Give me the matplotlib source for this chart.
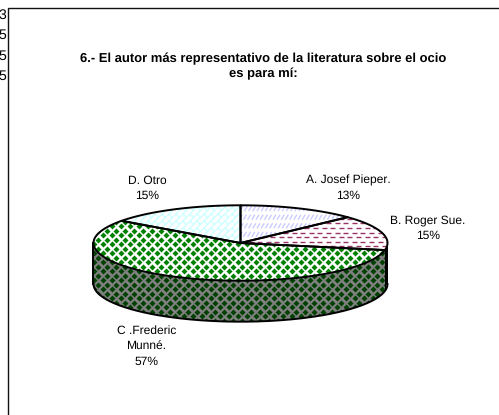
import numpy as np
import matplotlib
matplotlib.use('Agg')
import matplotlib.pyplot as plt
from matplotlib.patches import Polygon
from matplotlib.collections import LineCollection

plt.rcParams['font.family'] = ['Liberation Sans', 'DejaVu Sans']
plt.rcParams['text.hinting'] = 'none'
plt.rcParams['text.hinting_factor'] = 1

title = '6.- El autor más representativo de la literatura sobre el ocio\nes para mí:'
categories = ['A. Josef Pieper.', 'B. Roger Sue.', 'C .Frederic\nMunné.', 'D. Otro']
values = [13, 15, 57, 15]
percent_labels = ['13%', '15%', '57%', '15%']
left_stubs = ['3', '5', '5', '5']

# pie geometry in pixels
cx, cy, rx, ry, depth = 240.5, 243, 147, 37.7, 41

fig = plt.figure(figsize=(4.99, 4.15), dpi=100)
ax = fig.add_axes([0, 0, 1, 1])
ax.set_xlim(0, 499)
ax.set_ylim(415, 0)
ax.axis('off')


def rim(a):
    # a is degrees clockwise from the top
    a = np.radians(a)
    return cx + rx*np.sin(a), cy - ry*np.cos(a)


def wedge_path(a0, a1):
    t = np.linspace(a0, a1, 120)
    x, y = rim(t)
    return np.column_stack([np.r_[cx, x], np.r_[cy, y]])


def side_path(a0, a1):
    t = np.linspace(a0, a1, 120)
    x, y = rim(t)
    return np.column_stack([np.r_[x, x[::-1]], np.r_[y, y[::-1] + depth]])


def diamonds(patch, col, size=6.0):
    xs, ys = [], []
    for i, y in enumerate(np.arange(190, 335, 4.5)):
        off = 4.5 if i % 2 else 0
        for x in np.arange(85 + off, 400, 9.0):
            xs.append(x)
            ys.append(y)
    # size is the width of the diamond in pixels
    s = (size*0.72/np.sqrt(2))**2
    sc = ax.scatter(xs, ys, marker='D', s=s, c=col, linewidths=0, zorder=patch.get_zorder() + 0.1)
    sc.set_clip_path(patch)


def strokes(patch, segs, col, lw=1.0):
    lc = LineCollection(segs, colors=col, linewidths=lw, zorder=patch.get_zorder() + 0.1)
    ax.add_collection(lc)
    lc.set_clip_path(patch)


def blue_hatch(patch):
    segs = []
    for i, y in enumerate(np.arange(200, 250, 8.6)):
        for x in np.arange(235 + (i % 2), 360, 4.2):
            segs.append([(x, y + 2.5), (x + 3, y - 2.5)])
    strokes(patch, segs, '#ccccff', 1.0)


def pink_hatch(patch, col='#993366'):
    segs = []
    for i, y in enumerate(np.arange(205, 275, 4.6)):
        off = 4.2 if i % 2 else 0
        for x in np.arange(240 + off, 395, 8.6):
            segs.append([(x, y), (x + 5, y)])
    strokes(patch, segs, col, 1.0)


def brick_hatch(patch):
    segs = []
    for i, k in enumerate(np.arange(320, 490, 7)):
        segs.append([(k - 190, 190), (k - 250, 250)])
        for m in np.arange(-150, 70, 14):
            x0 = (k + m + (7 if i % 2 else 0)) / 2
            y0 = k - x0
            segs.append([(x0, y0), (x0 + 3.5, y0 + 3.5)])
    strokes(patch, segs, '#ccffff', 1.0)


# angles come from the values
edges = np.r_[0, np.cumsum(values)] / np.sum(values) * 360

# side wall, only the front half can be seen
c_side = Polygon(side_path(edges[2], 270), closed=True, fc='#808080', ec='none', zorder=2)
ax.add_patch(c_side)
diamonds(c_side, '#004000')
b_side = Polygon(side_path(90, edges[2]), closed=True, fc='#808080', ec='none', zorder=2)
ax.add_patch(b_side)
pink_hatch(b_side, '#4d1a33')

t = np.linspace(90, 270, 200)
x, y = rim(t)
ax.plot(x, y + depth, color='black', lw=1.4, zorder=3)
ax.plot([x[0], x[0]], [y[0], y[0] + depth], color='black', lw=1.4, zorder=3)
ax.plot([x[-1], x[-1]], [y[-1], y[-1] + depth], color='black', lw=1.4, zorder=3)
bx, by = rim(edges[2])
ax.plot([bx, bx], [by, by + depth - 3], color='black', lw=0.8, zorder=3)

# top face
fills = [blue_hatch, pink_hatch, lambda p: diamonds(p, '#008000'), brick_hatch]
for i in range(4):
    p = Polygon(wedge_path(edges[i], edges[i+1]), closed=True, fc='white', ec='none', zorder=4)
    ax.add_patch(p)
    fills[i](p)
for i in range(4):
    ax.add_patch(Polygon(wedge_path(edges[i], edges[i+1]), closed=True, fc='none', ec='black', lw=1.4, joinstyle='round', zorder=5))

# frame, cut off by the image on the right and bottom
ax.plot([8.5, 8.5, 499], [415, 8.5, 8.5], color='#111111', lw=1.0, solid_joinstyle='miter', zorder=6)

for yy, s in zip([15, 35, 56, 76], left_stubs):
    ax.text(-2, yy, s, fontsize=10, ha='left', va='center', color='black')

ax.text(263, 66, title, fontsize=9.45, fontweight='bold', ha='center', va='center', linespacing=1.3)

# pie labels
lab_x = [348, 428, 146.5, 147]
lab_y = [188.5, 228, 346, 188.5]
for i in range(4):
    ax.text(lab_x[i], lab_y[i], categories[i] + '\n' + percent_labels[i], fontsize=8.3,
            ha='center', va='center', linespacing=1.47)

fig.savefig('out.png', dpi=100)
